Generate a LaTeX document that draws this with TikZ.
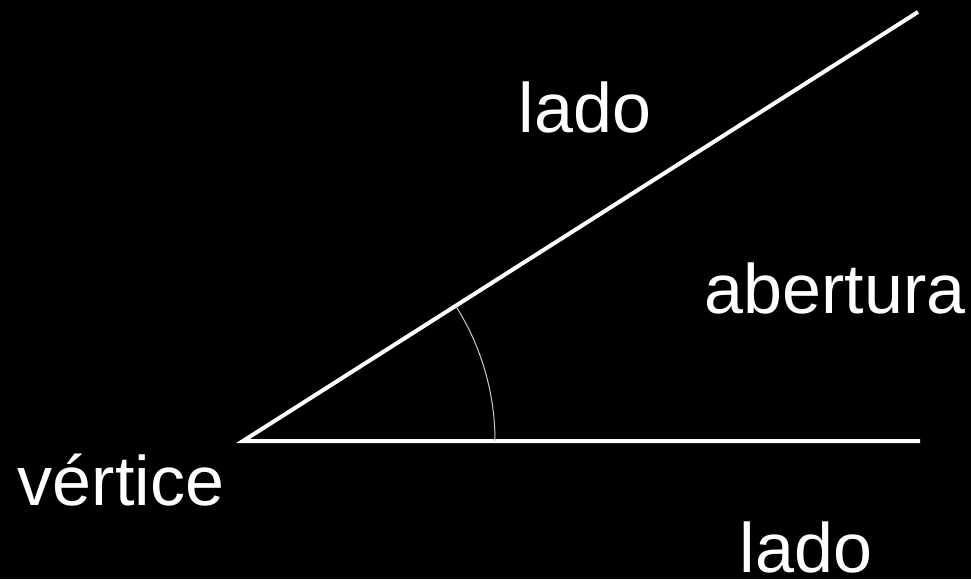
\documentclass[tikz,border=0pt]{standalone}
\usepackage{fontspec}
\setmainfont{Liberation Sans}

\begin{document}
\begin{tikzpicture}[x=1pt,y=1pt]
    \fill [black] (0,0) rectangle (971,579);
    \useasboundingbox (0,0) rectangle (971,579);

    \coordinate (v) at (243,138);
    \coordinate (a) at (920,138);
    \coordinate (b) at (918,567);

    \draw [white,line width=4pt] (a) -- (v) -- (b);

    \coordinate (arcs) at (495,138);
    \draw [white!80!black,line width=1pt] (arcs) arc [radius=252, start angle=0, end angle=32.44];

    \tikzset{lbl/.style={white,inner sep=0pt,anchor=base,font=\fontsize{70}{70}\selectfont}}
    \node [lbl] (ladoup) at (585,446) {lado};
    \node [lbl] (abert) at (835,266) {abertura};
    \node [lbl] (vert) at (121,74) {vértice};
    \node [lbl] (ladodown) at (806,7) {lado};
\end{tikzpicture}
\end{document}
